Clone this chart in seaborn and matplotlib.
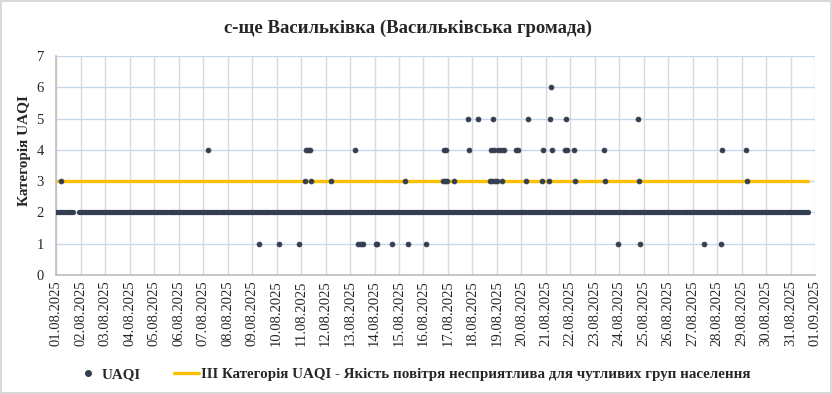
import matplotlib
matplotlib.use("Agg")
import matplotlib.pyplot as plt
import matplotlib.dates as mdates
from matplotlib.lines import Line2D
import seaborn as sns
import pandas as pd

# hourly readings, 01.08.2025 00:00 .. hour 737
start = "2025-08-01 00:00"
n_hours = 738
base_level = 2
missing_hours = [17, 18, 19, 20, 21]

# hours (from start) where an extra category reading shows up, and its value
outlier_hours = [5, 149, 199, 218, 238, 244, 245, 247, 249, 250, 269, 293, 296, 299, 301,
                 313, 314, 329, 342, 345, 362, 379, 380, 381, 382, 383, 390, 404, 405, 413,
                 425, 426, 427, 428, 429, 430, 432, 433, 436, 437, 439, 451, 453, 461, 462,
                 476, 477, 483, 484, 485, 486, 499, 500, 501, 508, 509, 537, 538, 551,
                 570, 571, 572, 635, 652, 653, 676, 677]
outlier_values = [3, 4, 1, 1, 1, 3, 4, 4, 4, 3, 3, 4, 1, 1, 1,
                  1, 1, 1, 3, 1, 1, 3, 4, 3, 4, 3, 3, 5, 4, 5,
                  3, 4, 3, 5, 4, 3, 3, 4, 4, 3, 4, 4, 4, 3, 5,
                  3, 4, 3, 5, 6, 4, 4, 5, 4, 4, 3, 4, 3, 1,
                  5, 3, 1, 1, 1, 4, 4, 3]

threshold = 3
threshold_label = "III Категорія UAQI - Якість повітря несприятлива для чутливих груп населення"
title = "с-ще Васильківка (Васильківська громада)"

dot_color = "#333f50"
line_color = "#ffc000"

times = pd.date_range(start, periods=n_hours, freq="h")
base = pd.DataFrame({"time": times, "uaqi": float(base_level)}).drop(index=missing_hours)
extra = pd.DataFrame({"time": times[outlier_hours], "uaqi": outlier_values})
thr = pd.DataFrame({"time": [times[0], times[-1]], "value": [threshold, threshold]})

sns.set_theme(style="white")
plt.rcParams["font.family"] = ["Liberation Serif", "DejaVu Serif"]

fig = plt.figure(figsize=(8.32, 3.94), dpi=100)
fig.patch.set_edgecolor("#d9d9d9")
fig.patch.set_linewidth(1.5)
ax = fig.add_axes([0.0677, 0.302, 0.9120, 0.556])

sns.lineplot(data=thr, x="time", y="value", ax=ax, color=line_color, linewidth=2.4, zorder=2)
# dense run of hourly points at level 2 -> no antialiasing, otherwise it shows moire spots
sns.scatterplot(data=base, x="time", y="uaqi", ax=ax, color=dot_color, s=12,
                edgecolor=dot_color, linewidth=0.3, zorder=3)
ax.collections[-1].set_antialiased(False)
sns.scatterplot(data=extra, x="time", y="uaqi", ax=ax, color=dot_color, s=12,
                edgecolor=dot_color, linewidth=0.6, zorder=3)

ax.set_xlim(pd.Timestamp("2025-08-01"), pd.Timestamp("2025-09-01"))
ax.set_ylim(0, 7)
ax.set_yticks(range(0, 8))
ax.xaxis.set_major_locator(mdates.DayLocator())
ax.xaxis.set_major_formatter(mdates.DateFormatter("%d.%m.%Y"))
ax.tick_params(axis="x", rotation=90, length=0, pad=4, labelsize=10.5)
ax.tick_params(axis="y", length=0, pad=9, labelsize=10.5)

ax.grid(False)
for y in range(1, 8):
    ax.axhline(y, color="#c9d7ec", linewidth=1, zorder=0)
ax.xaxis.grid(True, color="#d9d9d9", linewidth=1, zorder=0)
ax.set_axisbelow(True)
for side in ["top", "right"]:
    ax.spines[side].set_visible(False)
for side in ["left", "bottom"]:
    ax.spines[side].set_color("#bfbfbf")

ax.set_xlabel("")
ax.set_ylabel("Категорія UAQI", fontsize=11, fontweight="bold")
ax.yaxis.set_label_coords(-0.033, 0.57)

fig.text(0.49, 1 - 28 / 394, title, ha="center", va="center", fontsize=13.5, fontweight="bold")

handles = [
    Line2D([], [], marker="o", linestyle="none", color=dot_color, markersize=4),
    Line2D([], [], color=line_color, linewidth=2.4),
]
fig.legend(handles, ["UAQI", threshold_label], loc="center", bbox_to_anchor=(0.496, 1 - 374 / 394),
           ncol=2, frameon=False, prop={"weight": "bold", "size": 10.8},
           handlelength=1.7, handletextpad=0.1, columnspacing=2.2)

fig.savefig("out.png", dpi=100)
